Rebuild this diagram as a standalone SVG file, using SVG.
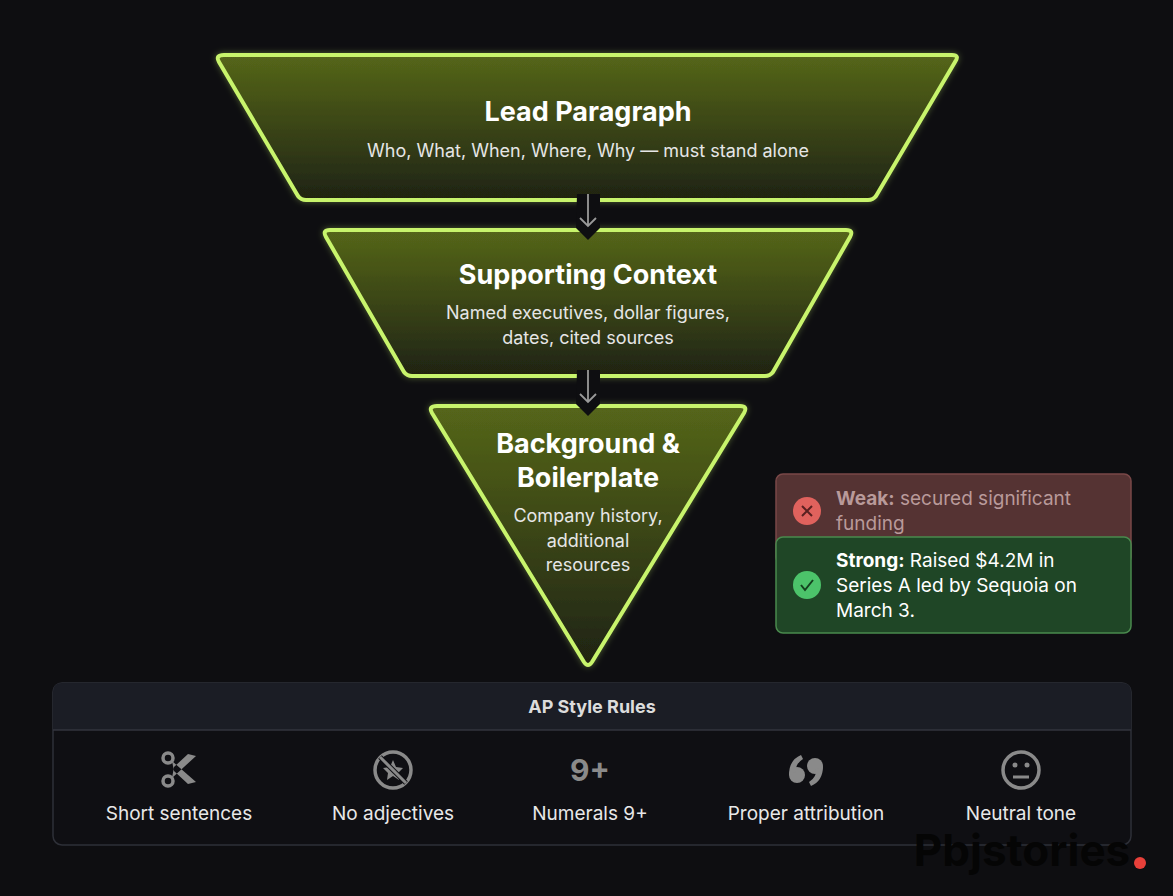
<svg xmlns="http://www.w3.org/2000/svg" width="1173" height="896" viewBox="0 0 1173 896">
<style>
.t{font-family:Inter,"Liberation Sans",sans-serif;fill:#fff;text-anchor:middle}
.h{font-weight:700;font-size:27px}
.s{font-size:18px;fill:#e6e6e6}
.f{fill:url(#g);stroke:#c8f46c;stroke-width:4;stroke-linejoin:round;filter:url(#glow)}
.lbl{font-family:Inter,"Liberation Sans",sans-serif;font-size:19px;fill:#e8e8e8;text-anchor:middle}
.ic{fill:none;stroke:#8a8a8a;stroke-width:3.5}
.cl{font-family:Inter,"Liberation Sans",sans-serif;font-size:19px}
.ar{fill:none;stroke:#9a9a9a;stroke-width:1.8}
</style>
<defs>
<linearGradient id="g" x1="0" y1="0" x2="0" y2="1"><stop offset="0" stop-color="#55661a"/><stop offset="1" stop-color="#1f2311"/></linearGradient>
<filter id="glow" x="-10%" y="-10%" width="120%" height="120%"><feGaussianBlur in="SourceAlpha" stdDeviation="3"/><feFlood flood-color="#c8f46c" flood-opacity="0.35"/><feComposite operator="in" in2="SourceAlpha"/><feGaussianBlur stdDeviation="3"/><feMerge><feMergeNode/><feMergeNode in="SourceGraphic"/></feMerge></filter>
</defs>
<rect width="1173" height="896" fill="#0e0e11"/>
<g id="lead"><path class="f" d="M224,55 L952,55 Q960,55 955,62 L876,196 Q873,200 868,200 L306,200 Q301,200 298,196 L219,62 Q215,55 224,55Z"/>
<text class="t h" x="588" y="121">Lead Paragraph</text>
<text class="t s" x="588" y="157">Who, What, When, Where, Why — must stand alone</text></g>
<g id="support"><path class="f" d="M330,230 L846,230 Q854,230 850,237 L773,372 Q770,376 765,376 L412,376 Q407,376 404,372 L326,237 Q322,230 330,230Z"/>
<text class="t h" x="588" y="284">Supporting Context</text>
<text class="t s" x="588" y="319">Named executives, dollar figures,</text>
<text class="t s" x="588" y="344">dates, cited sources</text></g>
<g id="background"><path class="f" d="M437,406 L740,406 Q748,406 744,413 L592,662 Q588,668 584,662 L432,413 Q428,406 437,406Z"/>
<text class="t h" x="588" y="453">Background &amp;</text>
<text class="t h" x="588" y="487">Boilerplate</text>
<text class="t s" x="588" y="522">Company history,</text>
<text class="t s" x="588" y="547">additional</text>
<text class="t s" x="588" y="571">resources</text></g>
<g id="connectors">
<path d="M577,194 L600,194 L600,228 L588,240 L576,228Z" fill="#0e0e11"/>
<path class="ar" d="M588,194 L588,226 M580,218 L588,226 L596,218"/>
<path d="M577,370 L600,370 L600,404 L588,416 L576,404Z" fill="#0e0e11"/>
<path class="ar" d="M588,370 L588,402 M580,394 L588,402 L596,394"/>
</g>
<g id="weak"><rect x="776" y="474" width="355" height="90" rx="7" fill="#553333" stroke="#7a4848" stroke-width="1.5"/>
<circle cx="807" cy="511" r="14" fill="#e0625d"/><path d="M802,506 L812,516 M812,506 L802,516" stroke="#5a2020" stroke-width="2"/>
<text class="cl" x="836" y="505" fill="#b99a9a"><tspan font-weight="700">Weak:</tspan> secured significant</text>
<text class="cl" x="836" y="530" fill="#b99a9a">funding</text></g>
<g id="strong"><rect x="776" y="537" width="355" height="96" rx="7" fill="#1f4626" stroke="#4a8a4e" stroke-width="1.5"/>
<circle cx="807" cy="585" r="14" fill="#4cc36a"/><path d="M801,585 L805,590 L813,580" fill="none" stroke="#14401e" stroke-width="2"/>
<text class="cl" x="836" y="567" fill="#fff"><tspan font-weight="700">Strong:</tspan> Raised $4.2M in</text>
<text class="cl" x="836" y="592" fill="#fff">Series A led by Sequoia on</text>
<text class="cl" x="836" y="617" fill="#fff">March 3.</text></g>
<g id="rules">
<rect x="53" y="683" width="1078" height="162" rx="9" fill="#0f0f13" stroke="#2e3038" stroke-width="1.5"/>
<path d="M62,683 L1122,683 Q1131,683 1131,692 L1131,730 L53,730 L53,692 Q53,683 62,683Z" fill="#1b1d25"/>
<line x1="53" y1="730" x2="1131" y2="730" stroke="#33353e" stroke-width="1.5"/>
<text x="592" y="713" font-family="Inter,'Liberation Sans',sans-serif" font-size="18" font-weight="700" fill="#dcdcdc" text-anchor="middle">AP Style Rules</text>
</g>
<g id="r1"><circle cx="168" cy="758" r="5" class="ic"/><circle cx="168" cy="781" r="5" class="ic"/>
<path d="M172,761 L196,782 L188,784 L174,771Z M172,778 L196,756 L188,754 L174,767Z" fill="#8a8a8a"/>
<text class="lbl" x="179" y="820">Short sentences</text></g>
<g id="r2"><circle cx="393" cy="770" r="18" class="ic" stroke-width="3"/>
<path d="M393,760 L396,767 L403,768 L398,773 L399,780 L393,776 L387,780 L388,773 L383,768 L390,767Z" fill="#8a8a8a"/>
<line x1="380" y1="757" x2="406" y2="783" stroke="#0f0f13" stroke-width="5"/><line x1="380" y1="757" x2="406" y2="783" stroke="#8a8a8a" stroke-width="3"/>
<text class="lbl" x="393" y="820">No adjectives</text></g>
<g id="r3"><text x="590" y="781" font-family="Inter,'Liberation Sans',sans-serif" font-size="30" font-weight="700" fill="#8a8a8a" text-anchor="middle">9+</text>
<text class="lbl" x="590" y="820">Numerals 9+</text></g>
<g id="r4" fill="#8a8a8a"><circle cx="797" cy="775" r="8"/><path d="M789,775 Q789,760 801,755 L803,759 Q795,764 796,772Z"/>
<circle cx="815" cy="766" r="8"/><path d="M823,766 Q823,781 811,786 L809,782 Q817,777 816,769Z"/>
<text class="lbl" x="806" y="820">Proper attribution</text></g>
<g id="r5"><circle cx="1021" cy="770" r="18" class="ic" stroke-width="3"/><circle cx="1015" cy="765" r="2.5" fill="#8a8a8a"/><circle cx="1027" cy="765" r="2.5" fill="#8a8a8a"/><line x1="1013" y1="777" x2="1029" y2="777" stroke="#8a8a8a" stroke-width="3"/>
<text class="lbl" x="1021" y="820">Neutral tone</text></g>
<g id="watermark"><text x="1022" y="866" font-family="Inter,'Liberation Sans',sans-serif" font-size="44" font-weight="700" fill="#050505" text-anchor="middle">Pbjstories</text><circle cx="1140" cy="863" r="6" fill="#e8403a"/></g>
</svg>
